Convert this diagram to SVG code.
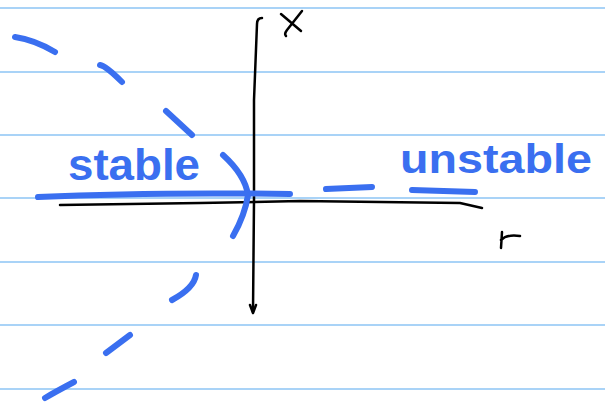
<svg xmlns="http://www.w3.org/2000/svg" width="605" height="402" viewBox="0 0 605 402">
<style>
.rule{stroke:#a9d3f7;stroke-width:2;fill:none}
.ink{stroke:#000;stroke-width:2.5;fill:none;stroke-linecap:round;stroke-linejoin:round}
.blue{stroke:#3a6ff0;stroke-width:6;fill:none;stroke-linecap:round;stroke-linejoin:round}
.bt{fill:#3a6ff0;font-family:"Liberation Sans",Arial,sans-serif;font-weight:bold}
.kt{fill:#000;font-family:"Liberation Sans",Arial,sans-serif}
</style>
<rect width="605" height="402" fill="#fff"/>
<g id="rules">
<line class="rule" x1="0" y1="8" x2="605" y2="8"/>
<line class="rule" x1="0" y1="72" x2="605" y2="72"/>
<line class="rule" x1="0" y1="135" x2="605" y2="135"/>
<line class="rule" x1="0" y1="198" x2="605" y2="198"/>
<line class="rule" x1="0" y1="262" x2="605" y2="262"/>
<line class="rule" x1="0" y1="325" x2="605" y2="325"/>
<line class="rule" x1="0" y1="389" x2="605" y2="389"/>
</g>
<g id="axes">
<path class="ink" d="M262,18 Q257,18 257,24 L254,100 L254,200 L253,312"/>
<path class="ink" d="M250,305 L253,313 L256,305"/>
<path class="ink" d="M60,205 L200,203 L300,201 L460,203 L482,208"/>
<path class="ink" stroke-width="3.5" d="M281,14 L301,31 M302,11 L287,30 Q284,34 286,36"/>
<path class="ink" stroke-width="3" d="M502,232 L501,248 M501,240 Q507,234 520,236"/>
</g>
<g id="curve">
<path class="blue" d="M15,37 Q35,40 55,52"/>
<path class="blue" d="M100,65 Q106,66 122,82"/>
<path class="blue" d="M166,111 L192,135"/>
<path class="blue" d="M223,155 Q245,175 248,195 Q245,215 233,236"/>
<path class="blue" d="M196,275 Q194,288 172,300"/>
<path class="blue" d="M130,335 L106,353"/>
<path class="blue" d="M74,382 Q55,392 45,398"/>
<path class="blue" d="M38,197 Q150,192 290,194"/>
<path class="blue" d="M326,189 L372,187"/>
<path class="blue" d="M412,190 L475,192"/>
</g>
<g id="labels">
<text class="bt" x="68" y="180" font-size="44" textLength="132" lengthAdjust="spacingAndGlyphs">stable</text>
<text class="bt" x="400" y="173" font-size="40" textLength="192" lengthAdjust="spacingAndGlyphs">unstable</text>
</g>
</svg>
